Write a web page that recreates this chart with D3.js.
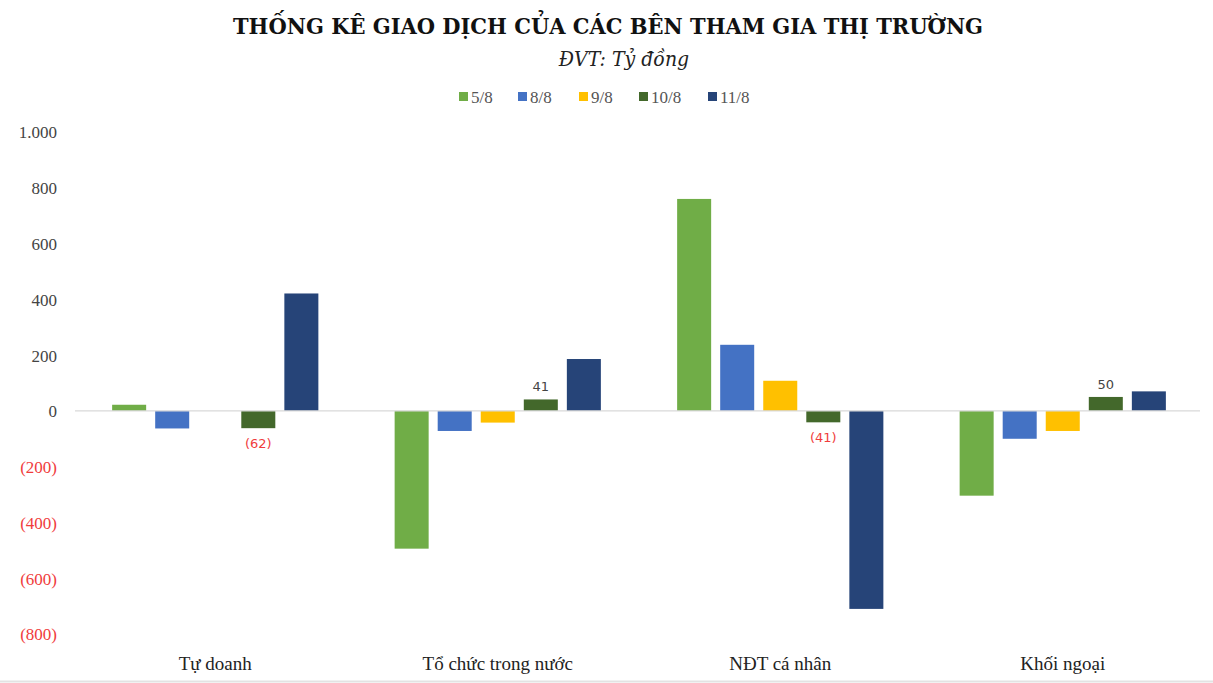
<!DOCTYPE html>
<html><head><meta charset="utf-8">
<script src="https://cdn.jsdelivr.net/npm/d3@7/dist/d3.min.js"></script>
<style>body{margin:0;background:#fff}svg{display:block}</style>
</head><body><svg id="c" width="1213" height="683"></svg>
<script>
const categories = ["Tự doanh", "Tổ chức trong nước", "NĐT cá nhân", "Khối ngoại"];
const seriesNames = ["5/8", "8/8", "9/8", "10/8", "11/8"];
const s58 = [22, -494, 760, -304];
const s88 = [-63, -72, 237, -100];
const s98 = [0, -42, 108, -72];
const s108 = [-62, 41, -41, 50];
const s118 = [421, 186, -710, 70];
const seriesValues = [s58, s88, s98, s108, s118];
const colors = ["#70AD47", "#4472C4", "#FFC000", "#43682B", "#264478"];
const yTicks = [-800, -600, -400, -200, 0, 200, 400, 600, 800, 1000];
const labeledSeries = 3; // 10/8 values shown

const svg = d3.select("#c");
const W = 1213, H = 683;
const y = d3.scaleLinear().domain([-800, 1000]).range([634, 132]);
const x0 = d3.scaleBand().domain(categories).range([74, 1204]).paddingInner(0.27).paddingOuter(0.135);
const x1 = d3.scaleBand().domain(seriesNames).range([0, x0.bandwidth()]).paddingInner(0.21);

const serif = "'DejaVu Serif Condensed','DejaVu Serif',serif";
const serif2 = "'Liberation Serif','Times New Roman',serif";

// title
svg.append("text").attr("x", 608).attr("y", 34).attr("text-anchor", "middle")
  .attr("font-family", serif).attr("font-weight", "bold").attr("font-size", 22)
  .attr("textLength", 750).attr("lengthAdjust", "spacingAndGlyphs")
  .attr("fill", "#111").text("THỐNG KÊ GIAO DỊCH CỦA CÁC BÊN THAM GIA THỊ TRƯỜNG");
svg.append("text").attr("x", 624).attr("y", 66).attr("text-anchor", "middle")
  .attr("font-family", serif).attr("font-style", "italic").attr("font-size", 21)
  .attr("fill", "#222").text("ĐVT: Tỷ đồng");

// legend
const legendX = [459, 518, 579, 639, 708];
const lg = svg.append("g");
seriesNames.forEach((n, i) => {
  lg.append("rect").attr("x", legendX[i]).attr("y", 92).attr("width", 9).attr("height", 9).attr("fill", colors[i]);
  lg.append("text").attr("x", legendX[i] + 12).attr("y", 103).attr("font-family", serif2).attr("font-size", 17)
    .attr("fill", "#555").text(n);
});

// y axis
const yAxis = d3.axisLeft(y).tickValues(yTicks).tickSize(0).tickPadding(0)
  .tickFormat(d => d < 0 ? "(" + d3.format(",")(-d) + ")" : d3.format(",")(d).replace(",", "."));
const ya = svg.append("g").attr("transform", "translate(57,0)").call(yAxis);
ya.select(".domain").remove();
ya.selectAll("text").attr("font-family", serif2).attr("font-size", 17)
  .attr("fill", d => d < 0 ? "#F03C3C" : "#444").attr("dy", "0.35em");

// bars
const g = svg.append("g");
categories.forEach((c, ci) => {
  seriesNames.forEach((s, si) => {
    const v = seriesValues[si][ci];
    if (v === 0) return;
    g.append("rect")
      .attr("x", x0(c) + x1(s)).attr("width", x1.bandwidth())
      .attr("y", y(Math.max(0, v))).attr("height", Math.abs(y(v) - y(0)))
      .attr("fill", colors[si]);
  });
  const v = seriesValues[labeledSeries][ci];
  const s = seriesNames[labeledSeries];
  svg.append("text").attr("x", x0(c) + x1(s) + x1.bandwidth() / 2)
    .attr("y", v < 0 ? y(v) + 20 : y(v) - 8).attr("text-anchor", "middle")
    .attr("font-family", "'DejaVu Sans',sans-serif").attr("font-size", 13)
    .attr("fill", v < 0 ? "#F03C3C" : "#444")
    .text(v < 0 ? "(" + (-v) + ")" : v);
});

// zero line
svg.append("line").attr("x1", 75).attr("x2", 1200).attr("y1", y(0)).attr("y2", y(0))
  .attr("stroke", "#D9D9D9").attr("stroke-width", 1.3);

// x labels
const xa = svg.append("g").attr("transform", "translate(0,662)");
categories.forEach(c => {
  xa.append("text").attr("x", x0(c) + x0.bandwidth() / 2).attr("y", 8).attr("text-anchor", "middle")
    .attr("font-family", serif2).attr("font-size", 19).attr("fill", "#222").text(c);
});

// bottom frame line
svg.append("line").attr("x1", 0).attr("x2", W).attr("y1", 681.5).attr("y2", 681.5).attr("stroke", "#E3E3E3").attr("stroke-width", 2);
</script></body></html>
